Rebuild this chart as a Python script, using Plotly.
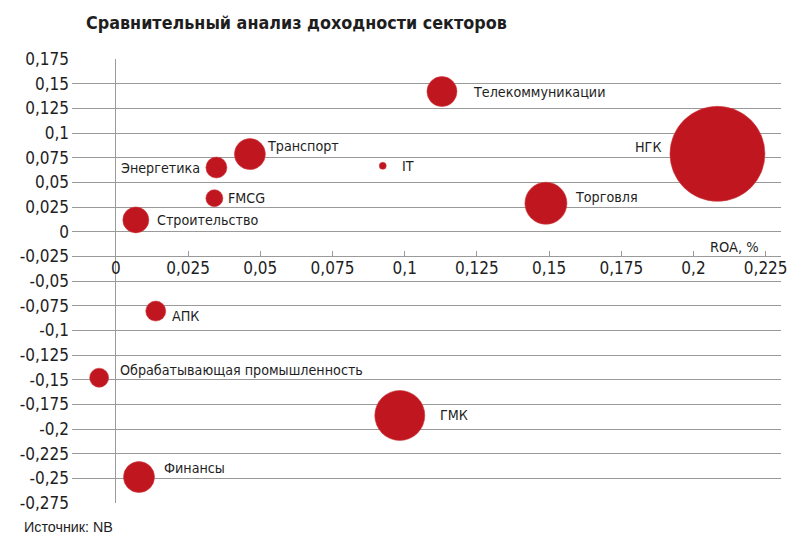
import plotly.graph_objects as go

# ---- data ----
sectors = ["Телекоммуникации", "НГК", "IT", "Торговля", "Транспорт", "Энергетика",
           "FMCG", "Строительство", "АПК", "Обрабатывающая промышленность", "ГМК", "Финансы"]
roa = [0.1129, 0.2083, 0.0924, 0.1489, 0.0464, 0.0348, 0.0341, 0.0069, 0.0138, -0.0058, 0.0983, 0.0080]
roe = [0.1420, 0.0789, 0.0667, 0.0288, 0.0786, 0.0650, 0.0339, 0.0119, -0.0805, -0.1480, -0.1863, -0.2487]
weight = [30, 95, 7, 42, 31, 21, 17, 26, 20, 19, 50, 31]

x_ticks = [0, 0.025, 0.05, 0.075, 0.1, 0.125, 0.15, 0.175, 0.2, 0.225]
x_tick_labels = ["0", "0,025", "0,05", "0,075", "0,1", "0,125", "0,15", "0,175", "0,2", "0,225"]
y_ticks = [0.175, 0.15, 0.125, 0.1, 0.075, 0.05, 0.025, 0, -0.025, -0.05, -0.075, -0.1,
           -0.125, -0.15, -0.175, -0.2, -0.225, -0.25, -0.275]
y_tick_labels = ["0,175", "0,15", "0,125", "0,1", "0,075", "0,05", "0,025", "0", "-0,025", "-0,05",
                 "-0,075", "-0,1", "-0,125", "-0,15", "-0,175", "-0,2", "-0,225", "-0,25", "-0,275"]

# ---- label placement (style) : (xshift px, yshift px, anchor) ----
label_style = [(29, 0, "left"), (-54, 7, "right"), (17, 0, "left"), (27, 6, "left"),
               (15, 8, "left"), (-14, 0, "right"), (12, 0, "left"), (19, 0, "left"),
               (14, -5, "left"), (19, 8, "left"), (38, 0, "left"), (23, 9, "left")]

FONT = "DejaVu Sans Condensed, Liberation Sans Narrow, Arial Narrow, sans-serif"
RED = "#c0161f"
TXT = "#1e1e1e"
GRID = "#9a9a9a"

fig = go.Figure()
fig.add_trace(go.Scatter(
    x=roa, y=roe, mode="markers",
    marker=dict(size=weight, sizemode="diameter", sizeref=1, color=RED,
                line=dict(width=0.6, color="#cf3a40"), opacity=1),
    hoverinfo="text", text=sectors, showlegend=False,
))

for name, xv, yv, (dx, dy, anc) in zip(sectors, roa, roe, label_style):
    fig.add_annotation(x=xv, y=yv, xref="x", yref="y", text=name, showarrow=False,
                       xanchor=anc, yanchor="middle", xshift=dx, yshift=dy,
                       font=dict(family=FONT, size=14.2, color=TXT))

fig.add_annotation(x=0.2232, y=-0.0152, xref="x", yref="y", text="ROA, %", showarrow=False,
                   xanchor="right", yanchor="middle", font=dict(family=FONT, size=14.5, color=TXT))

fig.add_annotation(x=-0.0702, y=-0.054, xref="paper", yref="paper", text="Источник: NB",
                   showarrow=False, xanchor="left", yanchor="middle",
                   font=dict(family="Liberation Sans, Arial, sans-serif", size=14.3, color=TXT))

ymin, ymax = -0.275, 0.175
xaxis_pos = (-0.025 - ymin) / (ymax - ymin)

fig.update_layout(
    width=800, height=545,
    margin=dict(l=72, r=16, t=59, b=42),
    paper_bgcolor="white", plot_bgcolor="white",
    separators=", ",
    title=dict(text="<b>Сравнительный анализ доходности секторов</b>",
               x=86 / 800, xanchor="left", xref="container",
               y=1 - 23 / 545, yanchor="middle", yref="container",
               font=dict(family=FONT, size=17.8, color=TXT)),
    xaxis=dict(range=[-0.0152, 0.2303], tickvals=x_ticks, ticktext=x_tick_labels,
               showgrid=False, zeroline=True, zerolinecolor=GRID, zerolinewidth=1,
               showline=False, anchor="free", position=xaxis_pos,
               ticks="inside", ticklen=5, tickcolor=GRID, tickwidth=1,
               tickfont=dict(family=FONT, size=17, color=TXT)),
    yaxis=dict(range=[ymin, ymax], tickvals=y_ticks, ticktext=y_tick_labels,
               showgrid=True, gridcolor=GRID, gridwidth=1, zeroline=False,
               showline=False, ticks="", ticklabelstandoff=2,
               tickfont=dict(family=FONT, size=17, color=TXT)),
)

fig.write_html("out.html")
